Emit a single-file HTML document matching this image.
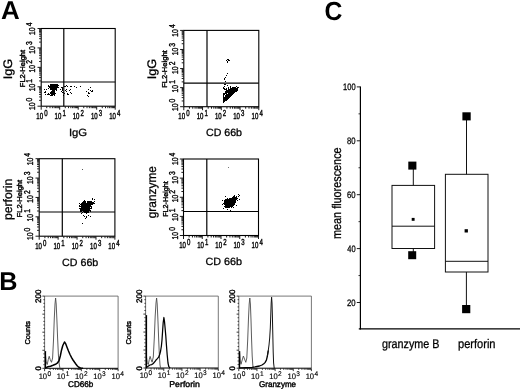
<!DOCTYPE html>
<html><head><meta charset="utf-8"><title>Figure</title>
<style>
html,body{margin:0;padding:0;background:#fff;}
body{width:520px;height:390px;overflow:hidden;}
svg{display:block;font-family:"Liberation Sans",sans-serif;text-rendering:geometricPrecision;}
.tk{stroke:#000;stroke-width:0.4px;}
.sm{stroke:#000;stroke-width:0.4px;}
.xs{stroke:#000;stroke-width:0.15px;}
.md{stroke:#000;stroke-width:0.28px;}
</style></head><body>
<svg width="520" height="390" viewBox="0 0 520 390">
<rect x="0" y="0" width="520" height="390" fill="#fff"/>
<text transform="translate(1.05,18.60) scale(1.009,1)" font-size="25.73" font-weight="bold" fill="#000">A</text>
<text transform="translate(-0.84,289.90) scale(0.981,1)" font-size="25.73" font-weight="bold" fill="#000">B</text>
<text transform="translate(324.61,19.60) scale(0.941,1)" font-size="26.27" font-weight="bold" fill="#000">C</text>
<rect x="41.20" y="28.50" width="74.00" height="77.70" stroke="#000" stroke-width="1.1" fill="none"/>
<line x1="63.80" y1="28.50" x2="63.80" y2="106.20" stroke="#000" stroke-width="1.2"/>
<line x1="41.20" y1="82.00" x2="115.20" y2="82.00" stroke="#000" stroke-width="1.2"/>
<path d="M41.20 106.50v3.2M46.77 106.50v1.7M50.03 106.50v1.7M52.34 106.50v1.7M54.13 106.50v1.7M55.60 106.50v1.7M56.83 106.50v1.7M57.91 106.50v1.7M58.85 106.50v1.7M59.70 106.50v3.2M65.27 106.50v1.7M68.53 106.50v1.7M70.84 106.50v1.7M72.63 106.50v1.7M74.10 106.50v1.7M75.33 106.50v1.7M76.41 106.50v1.7M77.35 106.50v1.7M78.20 106.50v3.2M83.77 106.50v1.7M87.03 106.50v1.7M89.34 106.50v1.7M91.13 106.50v1.7M92.60 106.50v1.7M93.83 106.50v1.7M94.91 106.50v1.7M95.85 106.50v1.7M96.70 106.50v3.2M102.27 106.50v1.7M105.53 106.50v1.7M107.84 106.50v1.7M109.63 106.50v1.7M111.10 106.50v1.7M112.33 106.50v1.7M113.41 106.50v1.7M114.35 106.50v1.7M115.20 106.50v3.2" stroke="#000" stroke-width="0.9" fill="none"/>
<path d="M40.90 106.20h-3.4M40.90 100.35h-1.8M40.90 96.93h-1.8M40.90 94.50h-1.8M40.90 92.62h-1.8M40.90 91.08h-1.8M40.90 89.78h-1.8M40.90 88.66h-1.8M40.90 87.66h-1.8M40.90 86.78h-3.4M40.90 80.93h-1.8M40.90 77.51h-1.8M40.90 75.08h-1.8M40.90 73.20h-1.8M40.90 71.66h-1.8M40.90 70.36h-1.8M40.90 69.23h-1.8M40.90 68.24h-1.8M40.90 67.35h-3.4M40.90 61.50h-1.8M40.90 58.08h-1.8M40.90 55.65h-1.8M40.90 53.77h-1.8M40.90 52.23h-1.8M40.90 50.93h-1.8M40.90 49.81h-1.8M40.90 48.81h-1.8M40.90 47.92h-3.4M40.90 42.08h-1.8M40.90 38.66h-1.8M40.90 36.23h-1.8M40.90 34.35h-1.8M40.90 32.81h-1.8M40.90 31.51h-1.8M40.90 30.38h-1.8M40.90 29.39h-1.8M40.90 28.50h-3.4" stroke="#000" stroke-width="0.9" fill="none"/>
<text transform="translate(12.30,79.34) rotate(-90) scale(1.023,1)" font-size="12.40" fill="#000" class="md">IgG</text>
<text transform="translate(24.60,87.20) rotate(-90) scale(1.064,1)" font-size="7.10" fill="#000" class="sm">FL2-Height</text>
<text transform="translate(68.89,136.10) scale(1.074,1)" font-size="10.50" fill="#000" class="md">IgG</text>
<text transform="translate(36.34,118.70) scale(0.690,1)" font-size="8.80" class="tk">10<tspan dx="1.59" dy="-3.00">0</tspan></text>
<text transform="translate(35.00,110.11) rotate(-90) scale(0.800,1)" font-size="8.50" class="tk">10<tspan dx="1.38" dy="-3.30">0</tspan></text>
<text transform="translate(54.54,118.70) scale(0.690,1)" font-size="8.80" class="tk">10<tspan dx="1.59" dy="-3.00">1</tspan></text>
<text transform="translate(35.00,91.31) rotate(-90) scale(0.800,1)" font-size="8.50" class="tk">10<tspan dx="1.38" dy="-3.30">1</tspan></text>
<text transform="translate(72.74,118.70) scale(0.690,1)" font-size="8.80" class="tk">10<tspan dx="1.59" dy="-3.00">2</tspan></text>
<text transform="translate(35.00,72.51) rotate(-90) scale(0.800,1)" font-size="8.50" class="tk">10<tspan dx="1.38" dy="-3.30">2</tspan></text>
<text transform="translate(90.94,118.70) scale(0.690,1)" font-size="8.80" class="tk">10<tspan dx="1.59" dy="-3.00">3</tspan></text>
<text transform="translate(35.00,53.71) rotate(-90) scale(0.800,1)" font-size="8.50" class="tk">10<tspan dx="1.38" dy="-3.30">3</tspan></text>
<text transform="translate(109.14,118.70) scale(0.690,1)" font-size="8.80" class="tk">10<tspan dx="1.59" dy="-3.00">4</tspan></text>
<text transform="translate(35.00,34.91) rotate(-90) scale(0.800,1)" font-size="8.50" class="tk">10<tspan dx="1.38" dy="-3.30">4</tspan></text>
<rect x="183.80" y="30.40" width="75.00" height="76.30" stroke="#000" stroke-width="1.1" fill="none"/>
<line x1="207.00" y1="30.40" x2="207.00" y2="106.70" stroke="#000" stroke-width="1.2"/>
<line x1="183.80" y1="83.20" x2="258.80" y2="83.20" stroke="#000" stroke-width="1.2"/>
<path d="M183.80 107.00v3.2M189.44 107.00v1.7M192.75 107.00v1.7M195.09 107.00v1.7M196.91 107.00v1.7M198.39 107.00v1.7M199.65 107.00v1.7M200.73 107.00v1.7M201.69 107.00v1.7M202.55 107.00v3.2M208.19 107.00v1.7M211.50 107.00v1.7M213.84 107.00v1.7M215.66 107.00v1.7M217.14 107.00v1.7M218.40 107.00v1.7M219.48 107.00v1.7M220.44 107.00v1.7M221.30 107.00v3.2M226.94 107.00v1.7M230.25 107.00v1.7M232.59 107.00v1.7M234.41 107.00v1.7M235.89 107.00v1.7M237.15 107.00v1.7M238.23 107.00v1.7M239.19 107.00v1.7M240.05 107.00v3.2M245.69 107.00v1.7M249.00 107.00v1.7M251.34 107.00v1.7M253.16 107.00v1.7M254.64 107.00v1.7M255.90 107.00v1.7M256.98 107.00v1.7M257.94 107.00v1.7M258.80 107.00v3.2" stroke="#000" stroke-width="0.9" fill="none"/>
<path d="M183.50 106.70h-3.4M183.50 100.96h-1.8M183.50 97.60h-1.8M183.50 95.22h-1.8M183.50 93.37h-1.8M183.50 91.86h-1.8M183.50 90.58h-1.8M183.50 89.47h-1.8M183.50 88.50h-1.8M183.50 87.62h-3.4M183.50 81.88h-1.8M183.50 78.52h-1.8M183.50 76.14h-1.8M183.50 74.29h-1.8M183.50 72.78h-1.8M183.50 71.50h-1.8M183.50 70.40h-1.8M183.50 69.42h-1.8M183.50 68.55h-3.4M183.50 62.81h-1.8M183.50 59.45h-1.8M183.50 57.07h-1.8M183.50 55.22h-1.8M183.50 53.71h-1.8M183.50 52.43h-1.8M183.50 51.32h-1.8M183.50 50.35h-1.8M183.50 49.47h-3.4M183.50 43.73h-1.8M183.50 40.37h-1.8M183.50 37.99h-1.8M183.50 36.14h-1.8M183.50 34.63h-1.8M183.50 33.35h-1.8M183.50 32.25h-1.8M183.50 31.27h-1.8M183.50 30.40h-3.4" stroke="#000" stroke-width="0.9" fill="none"/>
<text transform="translate(155.80,79.34) rotate(-90) scale(1.023,1)" font-size="12.40" fill="#000" class="md">IgG</text>
<text transform="translate(166.60,87.81) rotate(-90) scale(1.069,1)" font-size="7.10" fill="#000" class="sm">FL2-Height</text>
<text transform="translate(205.97,136.00) scale(1.013,1)" font-size="10.50" fill="#000" class="md">CD 66b</text>
<text transform="translate(178.34,119.20) scale(0.690,1)" font-size="8.80" class="tk">10<tspan dx="1.59" dy="-3.00">0</tspan></text>
<text transform="translate(178.00,111.11) rotate(-90) scale(0.800,1)" font-size="8.50" class="tk">10<tspan dx="1.38" dy="-3.30">0</tspan></text>
<text transform="translate(196.64,119.20) scale(0.690,1)" font-size="8.80" class="tk">10<tspan dx="1.59" dy="-3.00">1</tspan></text>
<text transform="translate(178.00,92.51) rotate(-90) scale(0.800,1)" font-size="8.50" class="tk">10<tspan dx="1.38" dy="-3.30">1</tspan></text>
<text transform="translate(214.94,119.20) scale(0.690,1)" font-size="8.80" class="tk">10<tspan dx="1.59" dy="-3.00">2</tspan></text>
<text transform="translate(178.00,73.91) rotate(-90) scale(0.800,1)" font-size="8.50" class="tk">10<tspan dx="1.38" dy="-3.30">2</tspan></text>
<text transform="translate(233.24,119.20) scale(0.690,1)" font-size="8.80" class="tk">10<tspan dx="1.59" dy="-3.00">3</tspan></text>
<text transform="translate(178.00,55.31) rotate(-90) scale(0.800,1)" font-size="8.50" class="tk">10<tspan dx="1.38" dy="-3.30">3</tspan></text>
<text transform="translate(251.54,119.20) scale(0.690,1)" font-size="8.80" class="tk">10<tspan dx="1.59" dy="-3.00">4</tspan></text>
<text transform="translate(178.00,36.71) rotate(-90) scale(0.800,1)" font-size="8.50" class="tk">10<tspan dx="1.38" dy="-3.30">4</tspan></text>
<rect x="39.20" y="158.70" width="75.70" height="77.50" stroke="#000" stroke-width="1.1" fill="none"/>
<line x1="62.30" y1="158.70" x2="62.30" y2="236.20" stroke="#000" stroke-width="1.2"/>
<line x1="39.20" y1="212.00" x2="114.90" y2="212.00" stroke="#000" stroke-width="1.2"/>
<path d="M39.20 236.50v3.2M44.90 236.50v1.7M48.23 236.50v1.7M50.59 236.50v1.7M52.43 236.50v1.7M53.93 236.50v1.7M55.19 236.50v1.7M56.29 236.50v1.7M57.26 236.50v1.7M58.12 236.50v3.2M63.82 236.50v1.7M67.15 236.50v1.7M69.52 236.50v1.7M71.35 236.50v1.7M72.85 236.50v1.7M74.12 236.50v1.7M75.22 236.50v1.7M76.18 236.50v1.7M77.05 236.50v3.2M82.75 236.50v1.7M86.08 236.50v1.7M88.44 236.50v1.7M90.28 236.50v1.7M91.78 236.50v1.7M93.04 236.50v1.7M94.14 236.50v1.7M95.11 236.50v1.7M95.98 236.50v3.2M101.67 236.50v1.7M105.00 236.50v1.7M107.37 236.50v1.7M109.20 236.50v1.7M110.70 236.50v1.7M111.97 236.50v1.7M113.07 236.50v1.7M114.03 236.50v1.7M114.90 236.50v3.2" stroke="#000" stroke-width="0.9" fill="none"/>
<path d="M38.90 236.20h-3.4M38.90 230.37h-1.8M38.90 226.96h-1.8M38.90 224.54h-1.8M38.90 222.66h-1.8M38.90 221.12h-1.8M38.90 219.83h-1.8M38.90 218.70h-1.8M38.90 217.71h-1.8M38.90 216.82h-3.4M38.90 210.99h-1.8M38.90 207.58h-1.8M38.90 205.16h-1.8M38.90 203.28h-1.8M38.90 201.75h-1.8M38.90 200.45h-1.8M38.90 199.33h-1.8M38.90 198.34h-1.8M38.90 197.45h-3.4M38.90 191.62h-1.8M38.90 188.21h-1.8M38.90 185.79h-1.8M38.90 183.91h-1.8M38.90 182.37h-1.8M38.90 181.08h-1.8M38.90 179.95h-1.8M38.90 178.96h-1.8M38.90 178.07h-3.4M38.90 172.24h-1.8M38.90 168.83h-1.8M38.90 166.41h-1.8M38.90 164.53h-1.8M38.90 163.00h-1.8M38.90 161.70h-1.8M38.90 160.58h-1.8M38.90 159.59h-1.8M38.90 158.70h-3.4" stroke="#000" stroke-width="0.9" fill="none"/>
<text transform="translate(12.00,219.99) rotate(-90) scale(0.982,1)" font-size="12.40" fill="#000" class="md">perforin</text>
<text transform="translate(22.30,217.41) rotate(-90) scale(1.072,1)" font-size="7.10" fill="#000" class="sm">FL2-Height</text>
<text transform="translate(62.07,265.50) scale(1.016,1)" font-size="10.50" fill="#000" class="md">CD 66b</text>
<text transform="translate(35.14,248.70) scale(0.690,1)" font-size="8.80" class="tk">10<tspan dx="1.59" dy="-3.00">0</tspan></text>
<text transform="translate(33.20,240.11) rotate(-90) scale(0.800,1)" font-size="8.50" class="tk">10<tspan dx="1.38" dy="-3.30">0</tspan></text>
<text transform="translate(53.44,248.70) scale(0.690,1)" font-size="8.80" class="tk">10<tspan dx="1.59" dy="-3.00">1</tspan></text>
<text transform="translate(33.20,221.41) rotate(-90) scale(0.800,1)" font-size="8.50" class="tk">10<tspan dx="1.38" dy="-3.30">1</tspan></text>
<text transform="translate(71.74,248.70) scale(0.690,1)" font-size="8.80" class="tk">10<tspan dx="1.59" dy="-3.00">2</tspan></text>
<text transform="translate(33.20,202.71) rotate(-90) scale(0.800,1)" font-size="8.50" class="tk">10<tspan dx="1.38" dy="-3.30">2</tspan></text>
<text transform="translate(90.04,248.70) scale(0.690,1)" font-size="8.80" class="tk">10<tspan dx="1.59" dy="-3.00">3</tspan></text>
<text transform="translate(33.20,184.01) rotate(-90) scale(0.800,1)" font-size="8.50" class="tk">10<tspan dx="1.38" dy="-3.30">3</tspan></text>
<text transform="translate(108.34,248.70) scale(0.690,1)" font-size="8.80" class="tk">10<tspan dx="1.59" dy="-3.00">4</tspan></text>
<text transform="translate(33.20,165.31) rotate(-90) scale(0.800,1)" font-size="8.50" class="tk">10<tspan dx="1.38" dy="-3.30">4</tspan></text>
<rect x="183.50" y="159.00" width="75.00" height="76.50" stroke="#000" stroke-width="1.1" fill="none"/>
<line x1="206.80" y1="159.00" x2="206.80" y2="235.50" stroke="#000" stroke-width="1.2"/>
<line x1="183.50" y1="211.50" x2="258.50" y2="211.50" stroke="#000" stroke-width="1.2"/>
<path d="M183.50 235.80v3.2M189.14 235.80v1.7M192.45 235.80v1.7M194.79 235.80v1.7M196.61 235.80v1.7M198.09 235.80v1.7M199.35 235.80v1.7M200.43 235.80v1.7M201.39 235.80v1.7M202.25 235.80v3.2M207.89 235.80v1.7M211.20 235.80v1.7M213.54 235.80v1.7M215.36 235.80v1.7M216.84 235.80v1.7M218.10 235.80v1.7M219.18 235.80v1.7M220.14 235.80v1.7M221.00 235.80v3.2M226.64 235.80v1.7M229.95 235.80v1.7M232.29 235.80v1.7M234.11 235.80v1.7M235.59 235.80v1.7M236.85 235.80v1.7M237.93 235.80v1.7M238.89 235.80v1.7M239.75 235.80v3.2M245.39 235.80v1.7M248.70 235.80v1.7M251.04 235.80v1.7M252.86 235.80v1.7M254.34 235.80v1.7M255.60 235.80v1.7M256.68 235.80v1.7M257.64 235.80v1.7M258.50 235.80v3.2" stroke="#000" stroke-width="0.9" fill="none"/>
<path d="M183.20 235.50h-3.4M183.20 229.74h-1.8M183.20 226.38h-1.8M183.20 223.99h-1.8M183.20 222.13h-1.8M183.20 220.62h-1.8M183.20 219.34h-1.8M183.20 218.23h-1.8M183.20 217.25h-1.8M183.20 216.38h-3.4M183.20 210.62h-1.8M183.20 207.25h-1.8M183.20 204.86h-1.8M183.20 203.01h-1.8M183.20 201.49h-1.8M183.20 200.21h-1.8M183.20 199.10h-1.8M183.20 198.13h-1.8M183.20 197.25h-3.4M183.20 191.49h-1.8M183.20 188.13h-1.8M183.20 185.74h-1.8M183.20 183.88h-1.8M183.20 182.37h-1.8M183.20 181.09h-1.8M183.20 179.98h-1.8M183.20 179.00h-1.8M183.20 178.12h-3.4M183.20 172.37h-1.8M183.20 169.00h-1.8M183.20 166.61h-1.8M183.20 164.76h-1.8M183.20 163.24h-1.8M183.20 161.96h-1.8M183.20 160.85h-1.8M183.20 159.88h-1.8M183.20 159.00h-3.4" stroke="#000" stroke-width="0.9" fill="none"/>
<text transform="translate(156.30,218.28) rotate(-90) scale(0.959,1)" font-size="12.40" fill="#000" class="md">granzyme</text>
<text transform="translate(168.00,216.78) rotate(-90) scale(1.014,1)" font-size="7.10" fill="#000" class="sm">FL2-Height</text>
<text transform="translate(205.56,265.40) scale(1.025,1)" font-size="10.50" fill="#000" class="md">CD 66b</text>
<text transform="translate(179.14,248.00) scale(0.690,1)" font-size="8.80" class="tk">10<tspan dx="1.59" dy="-3.00">0</tspan></text>
<text transform="translate(178.00,239.51) rotate(-90) scale(0.800,1)" font-size="8.50" class="tk">10<tspan dx="1.38" dy="-3.30">0</tspan></text>
<text transform="translate(197.24,248.00) scale(0.690,1)" font-size="8.80" class="tk">10<tspan dx="1.59" dy="-3.00">1</tspan></text>
<text transform="translate(178.00,220.91) rotate(-90) scale(0.800,1)" font-size="8.50" class="tk">10<tspan dx="1.38" dy="-3.30">1</tspan></text>
<text transform="translate(215.34,248.00) scale(0.690,1)" font-size="8.80" class="tk">10<tspan dx="1.59" dy="-3.00">2</tspan></text>
<text transform="translate(178.00,202.31) rotate(-90) scale(0.800,1)" font-size="8.50" class="tk">10<tspan dx="1.38" dy="-3.30">2</tspan></text>
<text transform="translate(233.44,248.00) scale(0.690,1)" font-size="8.80" class="tk">10<tspan dx="1.59" dy="-3.00">3</tspan></text>
<text transform="translate(178.00,183.71) rotate(-90) scale(0.800,1)" font-size="8.50" class="tk">10<tspan dx="1.38" dy="-3.30">3</tspan></text>
<text transform="translate(251.54,248.00) scale(0.690,1)" font-size="8.80" class="tk">10<tspan dx="1.59" dy="-3.00">4</tspan></text>
<text transform="translate(178.00,165.11) rotate(-90) scale(0.800,1)" font-size="8.50" class="tk">10<tspan dx="1.38" dy="-3.30">4</tspan></text>
<path d="M44 89h1v1h-1zM44 92h1v1h-1zM45 91h1v1h-1zM45 92h1v1h-1zM45 94h1v1h-1zM46 89h1v1h-1zM47 94h1v1h-1zM48 85h1v1h-1zM48 86h1v1h-1zM48 88h1v1h-1zM48 93h1v1h-1zM48 94h1v1h-1zM49 86h1v1h-1zM49 87h1v1h-1zM49 94h1v1h-1zM50 84h1v1h-1zM50 85h1v1h-1zM50 86h1v1h-1zM50 87h1v1h-1zM50 88h1v1h-1zM50 89h1v1h-1zM50 92h1v1h-1zM50 93h1v1h-1zM50 95h1v1h-1zM51 84h1v1h-1zM51 85h1v1h-1zM51 86h1v1h-1zM51 87h1v1h-1zM51 88h1v1h-1zM51 89h1v1h-1zM51 91h1v1h-1zM51 92h1v1h-1zM51 93h1v1h-1zM51 94h1v1h-1zM51 95h1v1h-1zM52 84h1v1h-1zM52 85h1v1h-1zM52 86h1v1h-1zM52 87h1v1h-1zM52 88h1v1h-1zM52 89h1v1h-1zM52 90h1v1h-1zM52 91h1v1h-1zM52 92h1v1h-1zM52 93h1v1h-1zM52 94h1v1h-1zM52 95h1v1h-1zM53 84h1v1h-1zM53 85h1v1h-1zM53 86h1v1h-1zM53 87h1v1h-1zM53 88h1v1h-1zM53 89h1v1h-1zM53 90h1v1h-1zM53 91h1v1h-1zM53 92h1v1h-1zM53 93h1v1h-1zM53 94h1v1h-1zM54 84h1v1h-1zM54 85h1v1h-1zM54 86h1v1h-1zM54 87h1v1h-1zM54 88h1v1h-1zM54 89h1v1h-1zM54 90h1v1h-1zM54 91h1v1h-1zM54 92h1v1h-1zM54 93h1v1h-1zM54 94h1v1h-1zM54 95h1v1h-1zM55 84h1v1h-1zM55 85h1v1h-1zM55 86h1v1h-1zM55 87h1v1h-1zM55 88h1v1h-1zM55 89h1v1h-1zM55 93h1v1h-1zM56 84h1v1h-1zM56 85h1v1h-1zM56 86h1v1h-1zM56 87h1v1h-1zM56 88h1v1h-1zM56 89h1v1h-1zM56 90h1v1h-1zM57 84h1v1h-1zM57 85h1v1h-1zM57 86h1v1h-1zM57 87h1v1h-1zM58 85h1v1h-1zM58 87h1v1h-1zM60 89h1v1h-1zM61 87h1v1h-1zM61 91h1v1h-1zM62 87h1v1h-1zM62 88h1v1h-1zM62 89h1v1h-1zM62 90h1v1h-1zM62 92h1v1h-1zM63 92h1v1h-1zM63 95h1v1h-1zM64 86h1v1h-1zM64 93h1v1h-1zM65 86h1v1h-1zM65 90h1v1h-1zM66 85h1v1h-1zM66 89h1v1h-1zM66 91h1v1h-1zM67 86h1v1h-1zM67 93h1v1h-1zM67 94h1v1h-1zM68 94h1v1h-1zM69 90h1v1h-1zM70 86h1v1h-1zM70 89h1v1h-1zM70 92h1v1h-1zM71 86h1v1h-1zM71 93h1v1h-1zM74 86h1v1h-1zM76 87h1v1h-1zM80 86h1v1h-1zM86 91h1v1h-1zM87 95h1v1h-1zM88 89h1v1h-1zM88 92h1v1h-1zM88 93h1v1h-1zM88 96h1v1h-1zM89 93h1v1h-1zM90 87h1v1h-1zM90 90h1v1h-1zM91 91h1v1h-1zM92 90h1v1h-1zM92 91h1v1h-1z" fill="#000"/>
<path d="M223 87h1v1h-1zM223 88h1v1h-1zM223 93h1v1h-1zM223 94h1v1h-1zM223 95h1v1h-1zM223 96h1v1h-1zM223 97h1v1h-1zM223 98h1v1h-1zM223 99h1v1h-1zM223 100h1v1h-1zM223 101h1v1h-1zM223 102h1v1h-1zM224 78h1v1h-1zM224 79h1v1h-1zM224 84h1v1h-1zM224 86h1v1h-1zM224 88h1v1h-1zM224 89h1v1h-1zM224 93h1v1h-1zM224 94h1v1h-1zM224 97h1v1h-1zM224 98h1v1h-1zM224 99h1v1h-1zM224 100h1v1h-1zM224 101h1v1h-1zM225 77h1v1h-1zM225 81h1v1h-1zM225 84h1v1h-1zM225 89h1v1h-1zM225 91h1v1h-1zM225 92h1v1h-1zM225 93h1v1h-1zM225 95h1v1h-1zM225 96h1v1h-1zM225 97h1v1h-1zM225 98h1v1h-1zM225 99h1v1h-1zM225 100h1v1h-1zM226 60h1v1h-1zM226 75h1v1h-1zM226 88h1v1h-1zM226 89h1v1h-1zM226 90h1v1h-1zM226 91h1v1h-1zM226 92h1v1h-1zM226 93h1v1h-1zM226 94h1v1h-1zM226 95h1v1h-1zM226 96h1v1h-1zM226 97h1v1h-1zM226 98h1v1h-1zM226 99h1v1h-1zM226 100h1v1h-1zM227 59h1v1h-1zM227 61h1v1h-1zM227 62h1v1h-1zM227 73h1v1h-1zM227 85h1v1h-1zM227 90h1v1h-1zM227 91h1v1h-1zM227 92h1v1h-1zM227 94h1v1h-1zM227 95h1v1h-1zM227 96h1v1h-1zM227 97h1v1h-1zM227 98h1v1h-1zM227 99h1v1h-1zM228 59h1v1h-1zM228 60h1v1h-1zM228 87h1v1h-1zM228 88h1v1h-1zM228 89h1v1h-1zM228 90h1v1h-1zM228 91h1v1h-1zM228 92h1v1h-1zM228 93h1v1h-1zM228 94h1v1h-1zM228 95h1v1h-1zM228 96h1v1h-1zM228 97h1v1h-1zM228 98h1v1h-1zM229 60h1v1h-1zM229 89h1v1h-1zM229 90h1v1h-1zM229 91h1v1h-1zM229 92h1v1h-1zM229 93h1v1h-1zM229 94h1v1h-1zM229 95h1v1h-1zM229 96h1v1h-1zM229 97h1v1h-1zM230 86h1v1h-1zM230 87h1v1h-1zM230 88h1v1h-1zM230 89h1v1h-1zM230 90h1v1h-1zM230 91h1v1h-1zM230 92h1v1h-1zM230 93h1v1h-1zM230 94h1v1h-1zM230 95h1v1h-1zM230 96h1v1h-1zM231 88h1v1h-1zM231 89h1v1h-1zM231 90h1v1h-1zM231 91h1v1h-1zM231 92h1v1h-1zM231 93h1v1h-1zM231 94h1v1h-1zM231 95h1v1h-1zM232 87h1v1h-1zM232 88h1v1h-1zM232 89h1v1h-1zM232 90h1v1h-1zM232 91h1v1h-1zM232 92h1v1h-1zM232 93h1v1h-1zM232 94h1v1h-1zM233 87h1v1h-1zM233 88h1v1h-1zM233 89h1v1h-1zM233 90h1v1h-1zM233 91h1v1h-1zM233 92h1v1h-1zM233 93h1v1h-1zM234 87h1v1h-1zM234 88h1v1h-1zM234 89h1v1h-1zM234 90h1v1h-1zM234 91h1v1h-1zM234 92h1v1h-1zM235 87h1v1h-1zM235 88h1v1h-1zM235 89h1v1h-1zM235 90h1v1h-1zM235 91h1v1h-1zM236 86h1v1h-1zM236 88h1v1h-1zM236 89h1v1h-1zM236 90h1v1h-1zM236 91h1v1h-1zM237 87h1v1h-1zM237 88h1v1h-1zM237 89h1v1h-1zM237 90h1v1h-1zM238 87h1v1h-1z" fill="#000"/>
<path d="M79 203h1v1h-1zM79 205h1v1h-1zM79 206h1v1h-1zM79 208h1v1h-1zM80 204h1v1h-1zM80 206h1v1h-1zM80 208h1v1h-1zM80 209h1v1h-1zM80 210h1v1h-1zM80 211h1v1h-1zM81 203h1v1h-1zM81 204h1v1h-1zM81 205h1v1h-1zM81 206h1v1h-1zM81 207h1v1h-1zM81 208h1v1h-1zM81 209h1v1h-1zM81 210h1v1h-1zM81 211h1v1h-1zM81 213h1v1h-1zM82 202h1v1h-1zM82 203h1v1h-1zM82 204h1v1h-1zM82 205h1v1h-1zM82 206h1v1h-1zM82 207h1v1h-1zM82 208h1v1h-1zM82 209h1v1h-1zM82 210h1v1h-1zM82 212h1v1h-1zM82 223h1v1h-1zM83 201h1v1h-1zM83 202h1v1h-1zM83 203h1v1h-1zM83 204h1v1h-1zM83 205h1v1h-1zM83 206h1v1h-1zM83 207h1v1h-1zM83 208h1v1h-1zM83 209h1v1h-1zM83 210h1v1h-1zM83 211h1v1h-1zM83 215h1v1h-1zM84 200h1v1h-1zM84 201h1v1h-1zM84 202h1v1h-1zM84 203h1v1h-1zM84 204h1v1h-1zM84 205h1v1h-1zM84 206h1v1h-1zM84 207h1v1h-1zM84 208h1v1h-1zM84 209h1v1h-1zM84 210h1v1h-1zM84 211h1v1h-1zM84 212h1v1h-1zM84 216h1v1h-1zM85 201h1v1h-1zM85 202h1v1h-1zM85 203h1v1h-1zM85 204h1v1h-1zM85 205h1v1h-1zM85 206h1v1h-1zM85 207h1v1h-1zM85 208h1v1h-1zM85 209h1v1h-1zM85 210h1v1h-1zM85 211h1v1h-1zM85 212h1v1h-1zM85 218h1v1h-1zM86 203h1v1h-1zM86 204h1v1h-1zM86 205h1v1h-1zM86 206h1v1h-1zM86 207h1v1h-1zM86 208h1v1h-1zM86 209h1v1h-1zM86 210h1v1h-1zM86 211h1v1h-1zM86 212h1v1h-1zM86 213h1v1h-1zM86 216h1v1h-1zM86 217h1v1h-1zM87 201h1v1h-1zM87 202h1v1h-1zM87 203h1v1h-1zM87 204h1v1h-1zM87 205h1v1h-1zM87 206h1v1h-1zM87 207h1v1h-1zM87 208h1v1h-1zM87 209h1v1h-1zM87 210h1v1h-1zM87 211h1v1h-1zM87 212h1v1h-1zM88 201h1v1h-1zM88 202h1v1h-1zM88 203h1v1h-1zM88 204h1v1h-1zM88 205h1v1h-1zM88 206h1v1h-1zM88 207h1v1h-1zM88 208h1v1h-1zM88 209h1v1h-1zM88 210h1v1h-1zM88 211h1v1h-1zM88 212h1v1h-1zM88 215h1v1h-1zM89 201h1v1h-1zM89 202h1v1h-1zM89 203h1v1h-1zM89 204h1v1h-1zM89 205h1v1h-1zM89 206h1v1h-1zM89 207h1v1h-1zM89 208h1v1h-1zM89 209h1v1h-1zM89 210h1v1h-1zM90 201h1v1h-1zM90 202h1v1h-1zM90 203h1v1h-1zM90 204h1v1h-1zM90 205h1v1h-1zM90 206h1v1h-1zM90 208h1v1h-1zM90 210h1v1h-1zM90 211h1v1h-1zM90 216h1v1h-1zM91 201h1v1h-1zM91 202h1v1h-1zM91 203h1v1h-1zM91 204h1v1h-1zM91 206h1v1h-1zM91 207h1v1h-1zM91 208h1v1h-1zM92 198h1v1h-1zM92 199h1v1h-1zM92 202h1v1h-1zM92 203h1v1h-1zM92 204h1v1h-1zM93 202h1v1h-1zM93 203h1v1h-1zM94 199h1v1h-1zM94 201h1v1h-1zM94 203h1v1h-1z" fill="#000"/>
<path d="M82 169h1v1h-1z" fill="#555"/>
<path d="M222 200h1v1h-1zM222 204h1v1h-1zM223 203h1v1h-1zM223 208h1v1h-1zM224 200h1v1h-1zM224 201h1v1h-1zM224 202h1v1h-1zM224 203h1v1h-1zM224 204h1v1h-1zM224 206h1v1h-1zM225 196h1v1h-1zM225 199h1v1h-1zM225 200h1v1h-1zM225 201h1v1h-1zM225 202h1v1h-1zM225 203h1v1h-1zM225 204h1v1h-1zM225 205h1v1h-1zM225 206h1v1h-1zM225 207h1v1h-1zM226 199h1v1h-1zM226 200h1v1h-1zM226 201h1v1h-1zM226 202h1v1h-1zM226 203h1v1h-1zM226 204h1v1h-1zM226 205h1v1h-1zM226 206h1v1h-1zM226 207h1v1h-1zM227 198h1v1h-1zM227 199h1v1h-1zM227 200h1v1h-1zM227 201h1v1h-1zM227 202h1v1h-1zM227 203h1v1h-1zM227 204h1v1h-1zM227 205h1v1h-1zM227 206h1v1h-1zM227 207h1v1h-1zM227 209h1v1h-1zM228 199h1v1h-1zM228 200h1v1h-1zM228 201h1v1h-1zM228 202h1v1h-1zM228 203h1v1h-1zM228 204h1v1h-1zM228 205h1v1h-1zM228 206h1v1h-1zM228 207h1v1h-1zM229 198h1v1h-1zM229 199h1v1h-1zM229 200h1v1h-1zM229 201h1v1h-1zM229 202h1v1h-1zM229 203h1v1h-1zM229 204h1v1h-1zM229 205h1v1h-1zM229 206h1v1h-1zM229 207h1v1h-1zM230 198h1v1h-1zM230 199h1v1h-1zM230 200h1v1h-1zM230 201h1v1h-1zM230 202h1v1h-1zM230 203h1v1h-1zM230 204h1v1h-1zM230 205h1v1h-1zM230 206h1v1h-1zM230 210h1v1h-1zM231 198h1v1h-1zM231 199h1v1h-1zM231 200h1v1h-1zM231 201h1v1h-1zM231 202h1v1h-1zM231 203h1v1h-1zM231 204h1v1h-1zM231 205h1v1h-1zM231 206h1v1h-1zM231 207h1v1h-1zM232 197h1v1h-1zM232 198h1v1h-1zM232 199h1v1h-1zM232 200h1v1h-1zM232 201h1v1h-1zM232 202h1v1h-1zM232 203h1v1h-1zM232 204h1v1h-1zM232 205h1v1h-1zM232 206h1v1h-1zM233 196h1v1h-1zM233 197h1v1h-1zM233 198h1v1h-1zM233 199h1v1h-1zM233 200h1v1h-1zM233 201h1v1h-1zM233 202h1v1h-1zM233 203h1v1h-1zM233 204h1v1h-1zM233 205h1v1h-1zM233 207h1v1h-1zM234 195h1v1h-1zM234 196h1v1h-1zM234 197h1v1h-1zM234 198h1v1h-1zM234 199h1v1h-1zM234 200h1v1h-1zM234 201h1v1h-1zM234 202h1v1h-1zM234 203h1v1h-1zM234 204h1v1h-1zM235 197h1v1h-1zM235 198h1v1h-1zM235 199h1v1h-1zM235 200h1v1h-1zM235 201h1v1h-1zM235 202h1v1h-1zM236 196h1v1h-1zM236 197h1v1h-1zM236 198h1v1h-1zM236 199h1v1h-1zM236 205h1v1h-1zM237 198h1v1h-1zM237 200h1v1h-1zM238 194h1v1h-1zM238 196h1v1h-1zM239 195h1v1h-1zM239 199h1v1h-1z" fill="#000"/>
<path d="M228 167h1v1h-1z" fill="#777"/>
<line x1="44.60" y1="296.10" x2="118.10" y2="296.10" stroke="#555" stroke-width="0.8"/>
<line x1="118.10" y1="296.10" x2="118.10" y2="368.30" stroke="#555" stroke-width="0.8"/>
<line x1="44.60" y1="368.30" x2="118.10" y2="368.30" stroke="#000" stroke-width="1.0"/>
<line x1="44.60" y1="296.10" x2="44.60" y2="368.30" stroke="#333" stroke-width="0.7"/>
<path d="M44.60 368.30h-2.2M44.60 364.69h-1.2M44.60 361.08h-1.2M44.60 357.47h-1.2M44.60 353.86h-1.2M44.60 350.25h-2.2M44.60 346.64h-1.2M44.60 343.03h-1.2M44.60 339.42h-1.2M44.60 335.81h-1.2M44.60 332.20h-2.2M44.60 328.59h-1.2M44.60 324.98h-1.2M44.60 321.37h-1.2M44.60 317.76h-1.2M44.60 314.15h-2.2M44.60 310.54h-1.2M44.60 306.93h-1.2M44.60 303.32h-1.2M44.60 299.71h-1.2M44.60 296.10h-2.2" stroke="#000" stroke-width="0.8" fill="none"/>
<path d="M44.60 368.60v2.6M50.13 368.60v1.3M53.37 368.60v1.3M55.66 368.60v1.3M57.44 368.60v1.3M58.90 368.60v1.3M60.13 368.60v1.3M61.19 368.60v1.3M62.13 368.60v1.3M62.98 368.60v2.6M68.51 368.60v1.3M71.74 368.60v1.3M74.04 368.60v1.3M75.82 368.60v1.3M77.27 368.60v1.3M78.50 368.60v1.3M79.57 368.60v1.3M80.51 368.60v1.3M81.35 368.60v2.6M86.88 368.60v1.3M90.12 368.60v1.3M92.41 368.60v1.3M94.19 368.60v1.3M95.65 368.60v1.3M96.88 368.60v1.3M97.94 368.60v1.3M98.88 368.60v1.3M99.72 368.60v2.6M105.26 368.60v1.3M108.49 368.60v1.3M110.79 368.60v1.3M112.57 368.60v1.3M114.02 368.60v1.3M115.25 368.60v1.3M116.32 368.60v1.3M117.26 368.60v1.3M118.10 368.60v2.6" stroke="#000" stroke-width="0.8" fill="none"/>
<text transform="translate(38.63,378.60) scale(0.950,1)" font-size="8.00" class="xs">10<tspan dx="0.42" dy="-2.90" font-size="6.9">0</tspan></text>
<text transform="translate(56.83,378.60) scale(0.950,1)" font-size="8.00" class="xs">10<tspan dx="0.42" dy="-2.90" font-size="6.9">1</tspan></text>
<text transform="translate(75.03,378.60) scale(0.950,1)" font-size="8.00" class="xs">10<tspan dx="0.42" dy="-2.90" font-size="6.9">2</tspan></text>
<text transform="translate(93.23,378.60) scale(0.950,1)" font-size="8.00" class="xs">10<tspan dx="0.42" dy="-2.90" font-size="6.9">3</tspan></text>
<text transform="translate(111.43,378.60) scale(0.950,1)" font-size="8.00" class="xs">10<tspan dx="0.42" dy="-2.90" font-size="6.9">4</tspan></text>
<text transform="translate(68.09,387.00) scale(0.977,1)" font-size="8.30" fill="#000" class="sm">CD66b</text>
<text transform="translate(40.50,302.90) rotate(-90) scale(0.997,1)" font-size="8.00" fill="#000" class="sm">200</text>
<text transform="translate(40.70,370.51) rotate(-90) scale(0.964,1)" font-size="8.00" fill="#000" class="sm">0</text>
<text transform="translate(29.90,344.57) rotate(-90) scale(1.060,1)" font-size="7.00" fill="#000" class="sm">Counts</text>
<path d="M45.3 353.0 L46.2 362.0 L47.2 364.5 L48.3 359.5 L49.2 356.3 L50.2 359.5 L51.5 362.3 L52.6 358.0 L53.5 340.0 L54.3 318.0 L55.0 304.0 L55.6 298.0 L56.2 304.0 L56.9 320.0 L57.6 338.0 L58.4 355.0 L59.2 364.0 L59.9 368.0" stroke="#4a4a4a" stroke-width="0.9" fill="none" stroke-linejoin="round" stroke-linecap="round"/>
<path d="M45.5 351.5 L45.5 368.0" stroke="#000" stroke-width="1.2" fill="none" stroke-linejoin="round" stroke-linecap="round"/>
<path d="M46.0 367.6 L48.0 366.8 L50.5 366.2 L53.0 365.3 L55.5 364.3 L57.2 363.2 L59.0 360.8 L60.3 356.0 L61.5 350.2 L62.8 345.5 L64.5 342.0 L65.6 343.6 L67.0 347.2 L68.5 351.0 L70.0 354.5 L71.6 357.6 L73.0 360.0 L74.6 362.3 L76.0 364.2 L77.4 366.0 L78.8 367.2 L80.5 367.9 L82.5 368.2" stroke="#000" stroke-width="1.5" fill="none" stroke-linejoin="round" stroke-linecap="round"/>
<line x1="145.60" y1="296.10" x2="218.30" y2="296.10" stroke="#555" stroke-width="0.8"/>
<line x1="218.30" y1="296.10" x2="218.30" y2="368.00" stroke="#555" stroke-width="0.8"/>
<line x1="145.60" y1="368.00" x2="218.30" y2="368.00" stroke="#000" stroke-width="1.0"/>
<line x1="145.60" y1="296.10" x2="145.60" y2="368.00" stroke="#333" stroke-width="0.7"/>
<path d="M145.60 368.00h-2.2M145.60 364.40h-1.2M145.60 360.81h-1.2M145.60 357.22h-1.2M145.60 353.62h-1.2M145.60 350.02h-2.2M145.60 346.43h-1.2M145.60 342.84h-1.2M145.60 339.24h-1.2M145.60 335.64h-1.2M145.60 332.05h-2.2M145.60 328.46h-1.2M145.60 324.86h-1.2M145.60 321.26h-1.2M145.60 317.67h-1.2M145.60 314.08h-2.2M145.60 310.48h-1.2M145.60 306.88h-1.2M145.60 303.29h-1.2M145.60 299.70h-1.2M145.60 296.10h-2.2" stroke="#000" stroke-width="0.8" fill="none"/>
<path d="M145.60 368.30v2.6M151.07 368.30v1.3M154.27 368.30v1.3M156.54 368.30v1.3M158.30 368.30v1.3M159.74 368.30v1.3M160.96 368.30v1.3M162.01 368.30v1.3M162.94 368.30v1.3M163.78 368.30v2.6M169.25 368.30v1.3M172.45 368.30v1.3M174.72 368.30v1.3M176.48 368.30v1.3M177.92 368.30v1.3M179.13 368.30v1.3M180.19 368.30v1.3M181.12 368.30v1.3M181.95 368.30v2.6M187.42 368.30v1.3M190.62 368.30v1.3M192.89 368.30v1.3M194.65 368.30v1.3M196.09 368.30v1.3M197.31 368.30v1.3M198.36 368.30v1.3M199.29 368.30v1.3M200.12 368.30v2.6M205.60 368.30v1.3M208.80 368.30v1.3M211.07 368.30v1.3M212.83 368.30v1.3M214.27 368.30v1.3M215.48 368.30v1.3M216.54 368.30v1.3M217.47 368.30v1.3M218.30 368.30v2.6" stroke="#000" stroke-width="0.8" fill="none"/>
<text transform="translate(139.63,378.30) scale(0.950,1)" font-size="8.00" class="xs">10<tspan dx="0.42" dy="-2.90" font-size="6.9">0</tspan></text>
<text transform="translate(157.83,378.30) scale(0.950,1)" font-size="8.00" class="xs">10<tspan dx="0.42" dy="-2.90" font-size="6.9">1</tspan></text>
<text transform="translate(176.03,378.30) scale(0.950,1)" font-size="8.00" class="xs">10<tspan dx="0.42" dy="-2.90" font-size="6.9">2</tspan></text>
<text transform="translate(194.23,378.30) scale(0.950,1)" font-size="8.00" class="xs">10<tspan dx="0.42" dy="-2.90" font-size="6.9">3</tspan></text>
<text transform="translate(212.43,378.30) scale(0.950,1)" font-size="8.00" class="xs">10<tspan dx="0.42" dy="-2.90" font-size="6.9">4</tspan></text>
<text transform="translate(169.30,387.00) scale(1.052,1)" font-size="8.30" fill="#000" class="sm">Perforin</text>
<text transform="translate(141.50,302.90) rotate(-90) scale(0.997,1)" font-size="8.00" fill="#000" class="sm">200</text>
<text transform="translate(141.70,370.51) rotate(-90) scale(0.964,1)" font-size="8.00" fill="#000" class="sm">0</text>
<text transform="translate(130.90,344.57) rotate(-90) scale(1.060,1)" font-size="7.00" fill="#000" class="sm">Counts</text>
<path d="M146.4 356.0 L147.2 362.5 L148.3 364.5 L149.3 359.5 L150.1 356.4 L151.0 359.3 L152.1 362.2 L153.3 357.0 L154.3 338.0 L155.2 316.0 L156.0 303.0 L156.6 298.0 L157.2 304.0 L158.0 322.0 L158.7 340.0 L159.4 356.0 L160.0 365.0 L160.5 367.6" stroke="#4a4a4a" stroke-width="0.9" fill="none" stroke-linejoin="round" stroke-linecap="round"/>
<path d="M146.5 315.5 L146.5 367.8" stroke="#000" stroke-width="1.2" fill="none" stroke-linejoin="round" stroke-linecap="round"/>
<path d="M147.0 367.0 L148.5 366.0 L150.0 365.0 L151.6 364.6 L153.0 363.8 L154.5 362.0 L156.0 360.0 L157.4 358.6 L158.6 357.2 L159.7 354.5 L160.6 351.0 L161.4 346.0 L162.0 340.0 L162.6 331.0 L163.2 322.5 L163.9 317.5 L164.5 321.5 L165.1 328.0 L165.8 336.0 L166.5 346.0 L167.2 355.0 L168.0 363.0 L168.8 366.6 L169.8 367.6" stroke="#000" stroke-width="1.25" fill="none" stroke-linejoin="round" stroke-linecap="round"/>
<line x1="238.80" y1="296.10" x2="311.40" y2="296.10" stroke="#555" stroke-width="0.8"/>
<line x1="311.40" y1="296.10" x2="311.40" y2="368.20" stroke="#555" stroke-width="0.8"/>
<line x1="238.80" y1="368.20" x2="311.40" y2="368.20" stroke="#000" stroke-width="1.0"/>
<line x1="238.80" y1="296.10" x2="238.80" y2="368.20" stroke="#333" stroke-width="0.7"/>
<path d="M238.80 368.20h-2.2M238.80 364.59h-1.2M238.80 360.99h-1.2M238.80 357.38h-1.2M238.80 353.78h-1.2M238.80 350.18h-2.2M238.80 346.57h-1.2M238.80 342.96h-1.2M238.80 339.36h-1.2M238.80 335.75h-1.2M238.80 332.15h-2.2M238.80 328.55h-1.2M238.80 324.94h-1.2M238.80 321.34h-1.2M238.80 317.73h-1.2M238.80 314.12h-2.2M238.80 310.52h-1.2M238.80 306.92h-1.2M238.80 303.31h-1.2M238.80 299.71h-1.2M238.80 296.10h-2.2" stroke="#000" stroke-width="0.8" fill="none"/>
<path d="M238.80 368.50v2.6M244.26 368.50v1.3M247.46 368.50v1.3M249.73 368.50v1.3M251.49 368.50v1.3M252.92 368.50v1.3M254.14 368.50v1.3M255.19 368.50v1.3M256.12 368.50v1.3M256.95 368.50v2.6M262.41 368.50v1.3M265.61 368.50v1.3M267.88 368.50v1.3M269.64 368.50v1.3M271.07 368.50v1.3M272.29 368.50v1.3M273.34 368.50v1.3M274.27 368.50v1.3M275.10 368.50v2.6M280.56 368.50v1.3M283.76 368.50v1.3M286.03 368.50v1.3M287.79 368.50v1.3M289.22 368.50v1.3M290.44 368.50v1.3M291.49 368.50v1.3M292.42 368.50v1.3M293.25 368.50v2.6M298.71 368.50v1.3M301.91 368.50v1.3M304.18 368.50v1.3M305.94 368.50v1.3M307.37 368.50v1.3M308.59 368.50v1.3M309.64 368.50v1.3M310.57 368.50v1.3M311.40 368.50v2.6" stroke="#000" stroke-width="0.8" fill="none"/>
<text transform="translate(232.83,378.50) scale(0.950,1)" font-size="8.00" class="xs">10<tspan dx="0.42" dy="-2.90" font-size="6.9">0</tspan></text>
<text transform="translate(251.03,378.50) scale(0.950,1)" font-size="8.00" class="xs">10<tspan dx="0.42" dy="-2.90" font-size="6.9">1</tspan></text>
<text transform="translate(269.23,378.50) scale(0.950,1)" font-size="8.00" class="xs">10<tspan dx="0.42" dy="-2.90" font-size="6.9">2</tspan></text>
<text transform="translate(287.43,378.50) scale(0.950,1)" font-size="8.00" class="xs">10<tspan dx="0.42" dy="-2.90" font-size="6.9">3</tspan></text>
<text transform="translate(305.63,378.50) scale(0.950,1)" font-size="8.00" class="xs">10<tspan dx="0.42" dy="-2.90" font-size="6.9">4</tspan></text>
<text transform="translate(259.00,387.00) scale(0.969,1)" font-size="8.30" fill="#000" class="sm">Granzyme</text>
<text transform="translate(234.70,302.90) rotate(-90) scale(0.997,1)" font-size="8.00" fill="#000" class="sm">200</text>
<text transform="translate(234.90,370.51) rotate(-90) scale(0.964,1)" font-size="8.00" fill="#000" class="sm">0</text>
<path d="M239.6 352.0 L240.3 361.0 L241.0 364.3 L242.2 360.0 L243.4 356.0 L244.5 359.0 L245.8 362.3 L246.8 358.0 L247.7 340.0 L248.5 318.0 L249.2 304.0 L249.8 298.0 L250.4 304.0 L251.0 320.0 L251.6 340.0 L252.2 356.0 L252.8 365.0 L253.3 368.0" stroke="#4a4a4a" stroke-width="0.9" fill="none" stroke-linejoin="round" stroke-linecap="round"/>
<path d="M239.6 351.5 L239.6 368.0" stroke="#000" stroke-width="1.2" fill="none" stroke-linejoin="round" stroke-linecap="round"/>
<path d="M240.0 367.8 L246.0 367.6 L252.0 367.3 L255.0 366.9 L257.0 366.5 L259.5 366.0 L262.0 365.0 L263.8 363.8 L265.0 362.6 L266.4 360.2 L267.4 356.0 L268.2 351.0" stroke="#000" stroke-width="1.3" fill="none" stroke-linejoin="round" stroke-linecap="round"/>
<path d="M267.4 356.0 L268.2 351.0 L269.0 345.0 L269.7 338.0 L270.3 328.0 L270.8 314.0 L271.2 303.0 L271.6 297.2 L272.0 303.0 L272.4 316.0 L272.8 334.0 L273.2 352.0 L273.6 363.0 L274.2 368.0" stroke="#111" stroke-width="1.0" fill="none" stroke-linejoin="round" stroke-linecap="round"/>
<line x1="360.40" y1="86.40" x2="360.40" y2="329.40" stroke="#000" stroke-width="1.2"/>
<line x1="358.80" y1="328.90" x2="520.00" y2="328.90" stroke="#000" stroke-width="1.2"/>
<line x1="356.80" y1="86.90" x2="360.40" y2="86.90" stroke="#000" stroke-width="0.9"/>
<text transform="translate(343.04,89.90) scale(0.800,1)" font-size="9.40" fill="#000" class="md">100</text>
<line x1="356.80" y1="140.80" x2="360.40" y2="140.80" stroke="#000" stroke-width="0.9"/>
<text transform="translate(347.05,143.80) scale(0.816,1)" font-size="9.40" fill="#000" class="md">80</text>
<line x1="356.80" y1="194.70" x2="360.40" y2="194.70" stroke="#000" stroke-width="0.9"/>
<text transform="translate(347.01,197.70) scale(0.820,1)" font-size="9.40" fill="#000" class="md">60</text>
<line x1="356.80" y1="248.60" x2="360.40" y2="248.60" stroke="#000" stroke-width="0.9"/>
<text transform="translate(347.25,251.60) scale(0.797,1)" font-size="9.40" fill="#000" class="md">40</text>
<line x1="356.80" y1="302.50" x2="360.40" y2="302.50" stroke="#000" stroke-width="0.9"/>
<text transform="translate(347.01,305.50) scale(0.820,1)" font-size="9.40" fill="#000" class="md">20</text>
<line x1="358.50" y1="113.85" x2="360.40" y2="113.85" stroke="#000" stroke-width="0.8"/>
<line x1="358.50" y1="167.75" x2="360.40" y2="167.75" stroke="#000" stroke-width="0.8"/>
<line x1="358.50" y1="221.65" x2="360.40" y2="221.65" stroke="#000" stroke-width="0.8"/>
<line x1="358.50" y1="275.55" x2="360.40" y2="275.55" stroke="#000" stroke-width="0.8"/>
<text transform="translate(341.30,239.01) rotate(-90) scale(0.861,1)" font-size="12.60" fill="#000" class="md">mean fluorescence</text>
<text transform="translate(381.97,347.80) scale(0.862,1)" font-size="12.50" fill="#000" class="md">granzyme B</text>
<text transform="translate(457.98,347.80) scale(0.886,1)" font-size="12.50" fill="#000" class="md">perforin</text>
<rect x="392.00" y="185.40" width="42.60" height="63.10" stroke="#111" stroke-width="1.0" fill="none"/>
<line x1="392.00" y1="226.20" x2="434.60" y2="226.20" stroke="#111" stroke-width="1.0"/>
<line x1="413.30" y1="169.00" x2="413.30" y2="185.40" stroke="#111" stroke-width="1.0"/>
<line x1="413.30" y1="248.50" x2="413.30" y2="252.00" stroke="#111" stroke-width="1.0"/>
<rect x="408.30" y="161.60" width="8.10" height="8.00" stroke="none" stroke-width="0" fill="#000"/>
<rect x="408.20" y="251.20" width="8.00" height="8.00" stroke="none" stroke-width="0" fill="#000"/>
<rect x="411.70" y="217.90" width="2.90" height="2.90" stroke="none" stroke-width="0" fill="#000"/>
<rect x="445.40" y="174.30" width="42.60" height="97.70" stroke="#111" stroke-width="1.0" fill="none"/>
<line x1="445.40" y1="261.30" x2="488.00" y2="261.30" stroke="#111" stroke-width="1.0"/>
<line x1="466.50" y1="120.00" x2="466.50" y2="174.30" stroke="#111" stroke-width="1.0"/>
<line x1="466.40" y1="272.00" x2="466.40" y2="305.50" stroke="#111" stroke-width="1.0"/>
<rect x="462.40" y="112.30" width="8.30" height="8.10" stroke="none" stroke-width="0" fill="#000"/>
<rect x="462.10" y="305.00" width="8.20" height="8.20" stroke="none" stroke-width="0" fill="#000"/>
<rect x="464.60" y="229.20" width="3.30" height="3.30" stroke="none" stroke-width="0" fill="#000"/>
</svg>
</body></html>
